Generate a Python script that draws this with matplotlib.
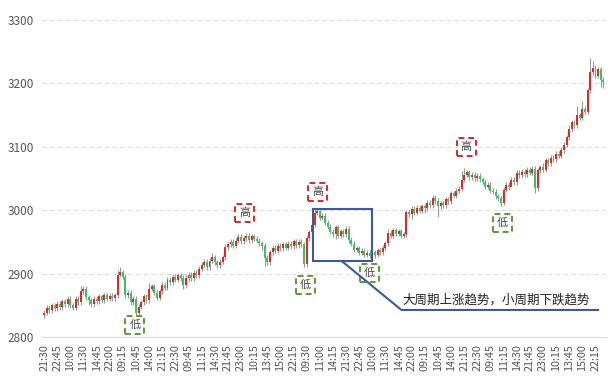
import numpy as np
import matplotlib
matplotlib.use("Agg")
import matplotlib.pyplot as plt
from matplotlib.patches import Rectangle

plt.rcParams['font.family'] = ['Noto Sans CJK SC', 'DejaVu Sans']

# closing prices, one per 15-min candle
close = [
    2838, 2846, 2842, 2850, 2845, 2852,
    2847, 2856, 2852, 2860, 2850, 2846,
    2860, 2855, 2872, 2876, 2863,
    2858, 2852, 2860, 2856,
    2864, 2858, 2866, 2860, 2865, 2861, 2866,
    2898,
    2902, 2895,
    2866, 2870, 2855, 2860, 2838, 2848,
    2855, 2864, 2858, 2876, 2880, 2870,
    2862, 2872, 2882, 2878, 2890,
    2886, 2895, 2890, 2897, 2893, 2882,
    2893, 2898, 2893, 2901, 2897, 2908,
    2914, 2919, 2910, 2920, 2926, 2918,
    2913, 2919, 2926, 2942, 2946,
    2950, 2944, 2952, 2958, 2951, 2956,
    2960, 2953, 2959, 2955, 2952, 2948,
    2944, 2925, 2918,
    2934, 2941, 2936, 2944, 2940, 2946, 2941,
    2947, 2943, 2951, 2945, 2950, 2946,
    2915,
    2956, 2965, 2977, 2996,
    2999, 2988, 2991, 2980, 2974, 2966,
    2962, 2973, 2960, 2967, 2962, 2971, 2953,
    2947, 2938, 2940, 2933, 2936, 2930, 2933, 2928,
    2934, 2930, 2937, 2934, 2941, 2948,
    2964, 2960, 2968, 2963, 2967, 2960, 2962,
    2997, 2994, 3002, 2996, 3004, 2999, 3006,
    3003, 3012, 3008, 3020, 3014, 3006,
    3011, 3008, 3017, 3014, 3027, 3023, 3031, 3034,
    3048, 3056, 3060,
    3052, 3056, 3050, 3054, 3049, 3045,
    3037, 3040, 3031, 3029, 3022, 3019, 3012,
    3032, 3040, 3036, 3048, 3044, 3059,
    3055, 3061, 3057, 3064, 3059, 3065, 3035,
    3063, 3068, 3064, 3079, 3074, 3083, 3080,
    3089, 3086, 3095, 3103, 3115, 3128,
    3139, 3134, 3150, 3146, 3160, 3155, 3189,
    3218, 3225, 3212, 3222, 3206, 3202,
]
first_open = 2834

# notable wick extremes (candle index -> price)
high_wicks = {28: 2906, 29: 2910, 103: 3003, 104: 3004, 159: 3062, 160: 3066,
              208: 3240, 209: 3235, 150: 3020, 200: 3135, 203: 3165, 205: 3172,
              14: 2880, 40: 2885, 64: 2932, 74: 2962, 131: 2970, 190: 3075}
low_wicks = {35: 2832, 53: 2876, 84: 2912, 99: 2910, 150: 2990, 174: 3006,
             187: 3027, 212: 3195, 213: 3192, 140: 2986, 17: 2850, 83: 2938,
             111: 2954, 126: 2925, 145: 2996, 178: 3038}

tick_labels = ["21:30", "22:45", "10:00", "11:30", "14:45", "22:00", "09:15", "10:45",
               "14:00", "21:15", "22:30", "09:45", "11:15", "14:30", "21:45", "23:00",
               "10:15", "13:45", "15:00", "22:15", "09:30", "11:00", "14:15",
               "21:30", "22:45", "10:00", "11:30", "14:45", "22:00", "09:15", "10:45",
               "14:00", "21:15", "22:30", "09:45", "11:15", "14:30", "21:45", "23:00",
               "10:15", "13:45", "15:00", "22:15"]

highs_marks = [(76.4, 2996), (104.2, 3029), (160.8, 3100)]
lows_marks = [(34.6, 2819), (99.6, 2882), (124, 2901), (174.5, 2980)]
note = "大周期上涨趋势，小周期下跌趋势"

close = np.array(close, dtype=float)
opens = np.concatenate([[first_open], close[:-1]])
x = np.arange(len(close))
top = np.maximum(opens, close)
bot = np.minimum(opens, close)
high = top + 4
low = bot - 4
for k, v in high_wicks.items():
    if k < len(high):
        high[k] = v
for k, v in low_wicks.items():
    if k < len(low):
        low[k] = v

up_col = "#e02a2a"
dn_col = "#35c46a"

fig = plt.figure(figsize=(6.12, 3.81), dpi=100)
ax = fig.add_axes([0.0686, 0.1155, 0.9216, 0.832])

ax.vlines(x, low, high, color="#9a9a9a", linewidth=0.8, zorder=2)
colors = [up_col if c >= o else dn_col for o, c in zip(opens, close)]
heights = np.maximum(top - bot, 0.8)
ax.bar(x, heights, bottom=bot, width=0.75, color=colors, linewidth=0, zorder=3)

ax.set_ylim(2800, 3300)
ax.set_xlim(-0.8, 214)
ax.set_yticks([2800, 2900, 3000, 3100, 3200, 3300])
ax.set_xticks(x[::5][:len(tick_labels)])
ax.set_xticklabels(tick_labels[:len(x[::5])], rotation=90)
ax.tick_params(axis="both", length=0, colors="#555555")
ax.tick_params(axis="x", labelsize=7.8, pad=5)
ax.tick_params(axis="y", labelsize=8.5, pad=6)
ax.yaxis.grid(True, linestyle=(0, (4, 3)), color="#dddddd", linewidth=0.8)
ax.set_axisbelow(True)
for s in ["top", "right", "left"]:
    ax.spines[s].set_visible(False)
ax.spines["bottom"].set_color("#dcdcdc")

for (mx, my) in highs_marks:
    ax.text(mx, my, "高", ha="center", va="center", fontsize=8, color="#444444",
            bbox=dict(boxstyle="square,pad=0.35", facecolor="white", edgecolor="#d42a2a",
                      linestyle=(0, (3, 2)), linewidth=1.4), zorder=5)
for (mx, my) in lows_marks:
    ax.text(mx, my, "低", ha="center", va="center", fontsize=8, color="#444444",
            bbox=dict(boxstyle="square,pad=0.35", facecolor="white", edgecolor="#5a9a3a",
                      linestyle=(0, (3, 2)), linewidth=1.4), zorder=5)

blue = "#3d5a9a"
ax.add_patch(Rectangle((102.3, 2920), 22.4, 82, fill=False, edgecolor=blue,
                       linewidth=1.5, zorder=6))
ax.plot([113.3, 136.1, 211.4], [2920, 2842.6, 2842.6], color=blue, linewidth=1.5,
        zorder=6, solid_capstyle="butt")
ax.text(136.6, 2858, note, ha="left", va="center", fontsize=9, color="#222222", zorder=6)

fig.savefig("out.png", dpi=100)
